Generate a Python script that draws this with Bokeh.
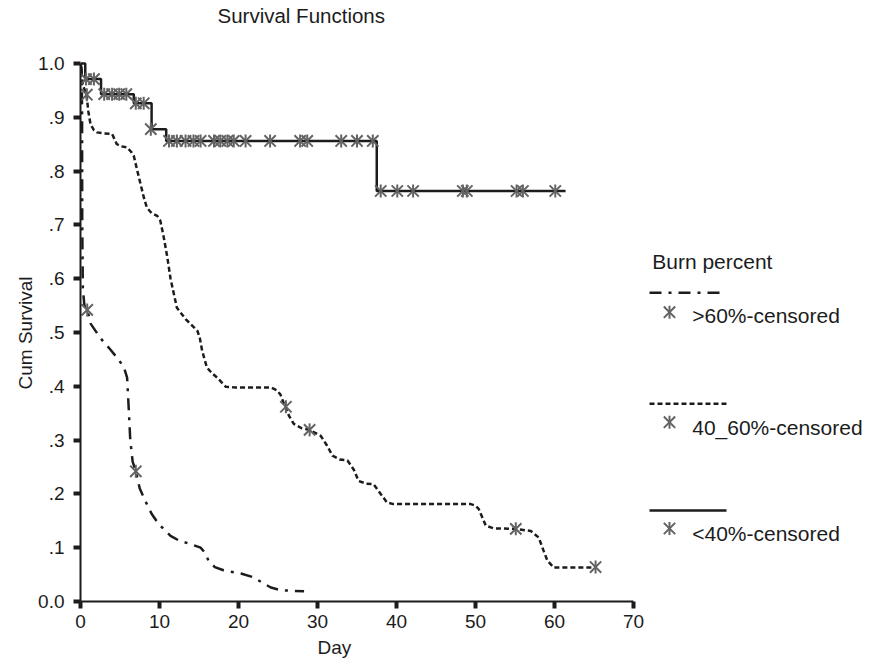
import numpy as np
from bokeh.plotting import figure
from bokeh.models import Range1d, FixedTicker, Title
from bokeh.embed import file_html
from bokeh.resources import INLINE
from bokeh.core.properties import value

# ---------------- data ----------------
x_ticks = [0, 10, 20, 30, 40, 50, 60, 70]
y_ticks = [0.0, 0.1, 0.2, 0.3, 0.4, 0.5, 0.6, 0.7, 0.8, 0.9, 1.0]
y_tick_labels = ["0.0", ".1", ".2", ".3", ".4", ".5", ".6", ".7", ".8", ".9", "1.0"]

# <40% : Kaplan-Meier step function
lt40_day = [0, 0.6, 2.6, 6.75, 9.0, 10.85, 37.5, 61.4]
lt40_surv = [1.0, 0.971, 0.943, 0.926, 0.878, 0.856, 0.763, 0.763]
lt40_cens_day = [0.7, 1.7, 3.0, 4.0, 4.9, 5.8, 7.0, 8.0, 8.9,
                 11.2, 12.2, 13.3, 14.3, 15.2, 16.9, 17.7, 18.6, 19.4, 20.9,
                 24.0, 27.8, 28.7, 33.0, 35.0, 37.0,
                 38.0, 40.1, 42.1, 48.4, 48.9, 55.2, 56.0, 60.1]
lt40_cens_surv = [0.971, 0.971, 0.943, 0.943, 0.943, 0.943, 0.926, 0.926, 0.878,
                  0.856, 0.856, 0.856, 0.856, 0.856, 0.856, 0.856, 0.856, 0.856, 0.856,
                  0.856, 0.856, 0.856, 0.856, 0.856, 0.856,
                  0.763, 0.763, 0.763, 0.763, 0.763, 0.763, 0.763, 0.763]

# 40_60% : smoothed survival curve
mid_day = [0, 0.3, 0.76, 1.0, 1.27, 1.7, 2.1, 3.0, 4.0, 4.6, 5.2, 5.9, 6.4, 6.75,
           7.2, 7.6, 8.0, 8.4, 9.0, 9.7, 10.1, 10.5, 11.0, 11.4, 12.2, 13.3, 14.2,
           14.8, 15.1, 15.4, 16.0, 16.6, 17.3, 18.4, 19.5, 24.1, 24.8, 25.3, 25.9,
           26.4, 27.0, 28.0, 29.0, 30.4, 31.2, 31.9, 32.8, 33.8, 34.6, 35.2, 36.2,
           37.1, 38.0, 38.8, 39.6, 49.4, 50.0, 50.4, 50.9, 51.3, 52.3, 55.1, 57.0,
           58.0, 58.6, 59.1, 59.9, 65.2]
mid_surv = [1.0, 0.96, 0.942, 0.91, 0.887, 0.876, 0.872, 0.870, 0.869, 0.850, 0.846,
            0.844, 0.836, 0.828, 0.800, 0.776, 0.752, 0.732, 0.722, 0.717, 0.708,
            0.680, 0.639, 0.600, 0.546, 0.525, 0.512, 0.503, 0.490, 0.466, 0.435,
            0.425, 0.416, 0.399, 0.398, 0.398, 0.393, 0.385, 0.362, 0.345, 0.330,
            0.322, 0.319, 0.308, 0.290, 0.271, 0.264, 0.262, 0.245, 0.224, 0.219,
            0.218, 0.200, 0.184, 0.181, 0.181, 0.178, 0.172, 0.155, 0.141, 0.136,
            0.135, 0.131, 0.119, 0.095, 0.076, 0.063, 0.063]
mid_cens_day = [0.8, 26.0, 29.0, 55.1, 65.2]
mid_cens_surv = [0.942, 0.362, 0.319, 0.135, 0.064]

# >60% : smoothed survival curve
gt60_day = [0, 0.15, 0.2, 0.22, 0.3, 0.5, 0.9, 1.3, 2.5, 3.8, 4.8, 5.5, 5.9, 6.1,
            6.3, 6.6, 7.0, 7.5, 8.2, 9.0, 9.9, 11.4, 12.5, 13.9, 15.2, 15.8, 16.2,
            17.0, 18.1, 20.3, 21.9, 23.0, 24.1, 25.3, 26.6, 28.3]
gt60_surv = [1.0, 0.99, 0.90, 0.70, 0.58, 0.55, 0.54, 0.516, 0.49, 0.468, 0.45,
             0.435, 0.416, 0.36, 0.30, 0.26, 0.242, 0.21, 0.187, 0.163, 0.144,
             0.122, 0.113, 0.107, 0.100, 0.090, 0.076, 0.064, 0.058, 0.052, 0.045,
             0.035, 0.026, 0.021, 0.020, 0.019]
gt60_cens_day = [0.85, 7.0]
gt60_cens_surv = [0.542, 0.242]

chart_title = "Survival Functions"
x_label = "Day"
y_label = "Cum Survival"
legend_title = "Burn percent"
legend_labels = [">60%-censored", "40_60%-censored", "<40%-censored"]

# ---------------- layout / styles ----------------
FONT = "Liberation Sans"
INK = "#1c1c1c"
MARK = "#636363"
DASHDOT = "12 7 3 7"
DASHED = "5 3"

W, H = 869, 665
BL, BB = 80, 64                      # left / bottom borders (px)
FRAME_W, FRAME_H = W - BL, H - BB
PX_PER_DAY = 7.9
PX_PER_UNIT = 538.0
X_END = FRAME_W / PX_PER_DAY
Y_END = FRAME_H / PX_PER_UNIT
TEXT_SHIFT = 7.5                     # measured offset of text glyph baselines


def dx(px):
    return (px - BL) / PX_PER_DAY


def dy(py):
    return (FRAME_H - py) / PX_PER_UNIT


def ty(py):
    return dy(py - TEXT_SHIFT)


p = figure(width=W, height=H, x_range=Range1d(0, X_END), y_range=Range1d(0, Y_END),
           output_backend="svg", toolbar_location=None,
           min_border_left=BL, min_border_top=0, min_border_bottom=BB, min_border_right=0)
p.outline_line_color = None
p.grid.visible = False
p.background_fill_color = "white"
p.border_fill_color = "white"

for ax in (p.xaxis[0], p.yaxis[0]):
    ax.axis_line_width = 2
    ax.axis_line_color = INK
    ax.major_tick_line_width = 4
    ax.major_tick_line_color = INK
    ax.major_tick_out = 7
    ax.major_tick_in = 0
    ax.minor_tick_line_color = None
    ax.major_label_text_font = FONT
    ax.major_label_text_font_size = "19px"
    ax.major_label_text_color = INK

p.xaxis.ticker = FixedTicker(ticks=x_ticks)
p.xaxis.bounds = (x_ticks[0], x_ticks[-1])
p.xaxis.major_label_standoff = 6
p.yaxis.ticker = FixedTicker(ticks=y_ticks)
p.yaxis.bounds = (y_ticks[0], y_ticks[-1])
p.yaxis.major_label_overrides = {t: lab for t, lab in zip(y_ticks, y_tick_labels)}
p.yaxis.major_label_standoff = 9

p.add_layout(Title(text=x_label, align="left", offset=237, text_font=FONT,
                   text_font_size="19px", text_font_style="normal",
                   text_color=INK, standoff=8), "below")
p.add_layout(Title(text=y_label, align="left", offset=212, text_font=FONT,
                   text_font_size="19px", text_font_style="normal",
                   text_color=INK, standoff=0), "left")

# chart title drawn inside the (extended) frame
p.text(x=[dx(217)], y=[ty(22.7)], text=[chart_title], text_font=value(FONT),
       text_font_size="20.5px", text_color=INK, text_baseline="alphabetic")

# curves
p.line(gt60_day, gt60_surv, line_color=INK, line_width=2.5, line_dash=DASHDOT)
p.line(mid_day, mid_surv, line_color=INK, line_width=2.5, line_dash=DASHED)
p.step(lt40_day, lt40_surv, mode="after", line_color=INK, line_width=2.5)


def asterisk(xs, ys):
    p.scatter(xs, ys, marker="x", size=16, line_color=MARK, line_width=2)
    p.scatter(xs, ys, marker="dash", angle=np.pi / 2, size=13, line_color=MARK, line_width=2)


for xs, ys in ((gt60_cens_day, gt60_cens_surv), (mid_cens_day, mid_cens_surv),
               (lt40_cens_day, lt40_cens_surv)):
    asterisk(xs, ys)

# legend (positions in page pixels, converted to data space)
p.text(x=[dx(651.7)], y=[ty(268.5)], text=[legend_title], text_font=value(FONT),
       text_font_size="21px", text_color=INK, text_baseline="alphabetic")
line_py = [292.3, 403.3, 510.0]
mark_py = [311.7, 421.7, 528.0]
label_py = [322.7, 434.3, 540.0]
dashes = [DASHDOT, DASHED, "solid"]
for lp, mp, tp, dash, lab in zip(line_py, mark_py, label_py, dashes, legend_labels):
    p.line([dx(649), dx(726)], [dy(lp), dy(lp)], line_color=INK, line_width=2.5, line_dash=dash)
    asterisk([dx(669)], [dy(mp)])
    p.text(x=[dx(691.7)], y=[ty(tp)], text=[lab], text_font=value(FONT),
           text_font_size="21px", text_color=INK, text_baseline="alphabetic")

open("out.html", "w").write(file_html(p, INLINE))
